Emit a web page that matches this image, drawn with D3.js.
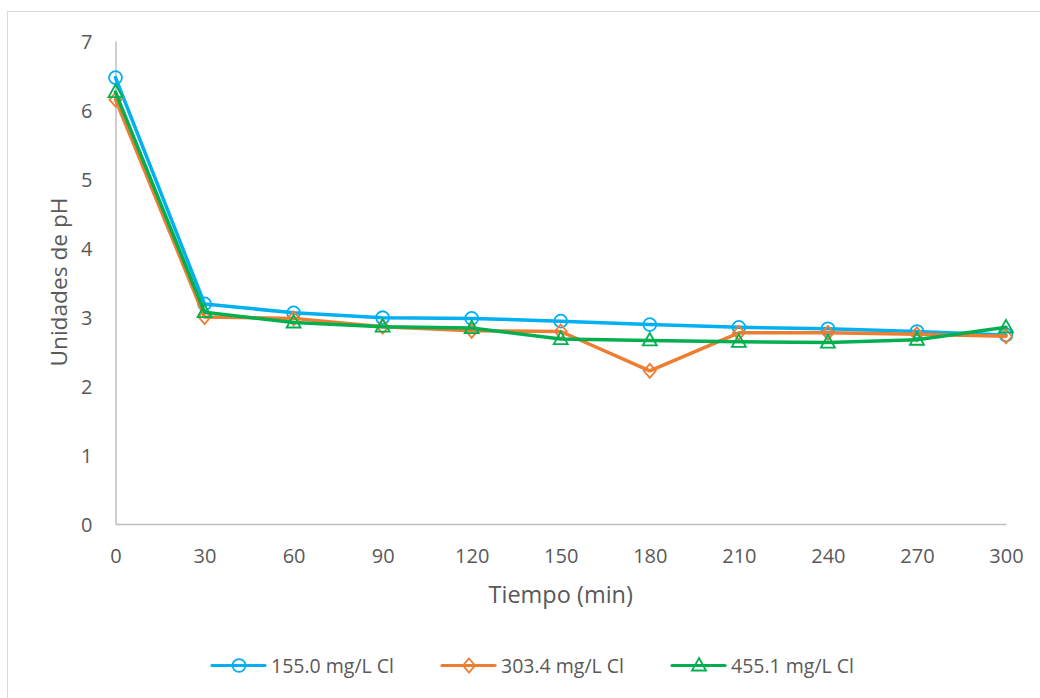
<!DOCTYPE html>
<html>
<head>
<meta charset="utf-8">
<script src="https://cdn.jsdelivr.net/npm/d3@7/dist/d3.min.js"></script>
<style>
  html, body { margin: 0; padding: 0; background: #fff; }
  svg { display: block; }
  text { font-family: "Open Sans", "Liberation Sans", sans-serif; fill: #595959; }
</style>
</head>
<body>
<svg id="chart" width="1040" height="698"></svg>
<script>
const times = [0, 30, 60, 90, 120, 150, 180, 210, 240, 270, 300];
const seriesNames = ["155.0 mg/L Cl", "303.4 mg/L Cl", "455.1 mg/L Cl"];
const s155 = [6.47, 3.19, 3.06, 2.99, 2.98, 2.94, 2.89, 2.85, 2.83, 2.79, 2.74];
const s303 = [6.15, 3.00, 2.98, 2.86, 2.80, 2.79, 2.22, 2.77, 2.77, 2.75, 2.72];
const s455 = [6.26, 3.07, 2.92, 2.86, 2.84, 2.68, 2.66, 2.64, 2.63, 2.67, 2.85];
const xTicks = [0, 30, 60, 90, 120, 150, 180, 210, 240, 270, 300];
const yTicks = [0, 1, 2, 3, 4, 5, 6, 7];
const xTitle = "Tiempo (min)";
const yTitle = "Unidades de pH";

const colors = ["#00b0f0", "#ed7d31", "#00b050"];
const markers = ["circle", "diamond", "triangle"];
const allSeries = [s155, s303, s455];

const svg = d3.select("#chart");

// outer chart border
svg.append("rect")
  .attr("x", 7.5).attr("y", 11.5)
  .attr("width", 1050).attr("height", 700)
  .attr("fill", "none").attr("stroke", "#d9d9d9").attr("stroke-width", 1);

const x = d3.scaleLinear().domain([0, 300]).range([115.5, 1006]);
const y = d3.scaleLinear().domain([0, 7]).range([524, 41]);

// axes
const xAxis = d3.axisBottom(x).tickValues(xTicks).tickSize(0).tickPadding(0).tickFormat(d3.format("d"));
const gx = svg.append("g").attr("transform", `translate(0,${y(0)})`).call(xAxis);
gx.select(".domain").attr("stroke", "#bfbfbf").attr("stroke-width", 1.5);
gx.selectAll("text").attr("font-size", 20).attr("dy", null).attr("y", 39).style("fill", "#595959");

const yAxis = d3.axisLeft(y).tickValues(yTicks).tickSize(0).tickPadding(0).tickFormat(d3.format("d"));
const gy = svg.append("g").attr("transform", `translate(${x(0)},0)`).call(yAxis);
gy.select(".domain").attr("stroke", "#bfbfbf").attr("stroke-width", 1.5);
gy.selectAll("text").attr("font-size", 20).attr("x", -23).attr("dy", "0.36em").style("fill", "#595959");

// axis titles
svg.append("text").attr("x", (x(0) + x(300)) / 2).attr("y", 603)
  .attr("text-anchor", "middle").attr("font-size", 23.5).text(xTitle);
svg.append("text")
  .attr("transform", `translate(67,${282}) rotate(-90)`)
  .attr("text-anchor", "middle").attr("font-size", 22.7).text(yTitle);

function markerPath(type) {
  if (type === "circle") return d3.symbol(d3.symbolCircle, 130)();
  if (type === "diamond") return "M0,-7L6,0L0,7L-6,0Z";
  return "M0,-7.5L7,5L-7,5Z";
}

const line = d3.line().x((d, i) => x(times[i])).y(d => y(d));

allSeries.forEach((vals, si) => {
  const g = svg.append("g");
  g.append("path").datum(vals).attr("d", line)
    .attr("fill", "none").attr("stroke", colors[si]).attr("stroke-width", 3.5)
    .attr("stroke-linejoin", "round").attr("stroke-linecap", "round");
  g.selectAll("path.m").data(vals).enter().append("path").attr("class", "m")
    .attr("d", markerPath(markers[si]))
    .attr("transform", (d, i) => `translate(${x(times[i])},${y(d)})`)
    .attr("fill", "none").attr("stroke", colors[si]).attr("stroke-width", 1.8);
});

// legend
const legendX = [212, 442, 672];
seriesNames.forEach((name, si) => {
  const lg = svg.append("g").attr("transform", `translate(${legendX[si]},665.5)`);
  lg.append("line").attr("x1", 0).attr("x2", 53).attr("y1", 0).attr("y2", 0)
    .attr("stroke", colors[si]).attr("stroke-width", 3.2).attr("stroke-linecap", "round");
  lg.append("path").attr("d", markerPath(markers[si])).attr("transform", "translate(27,0)")
    .attr("fill", "none").attr("stroke", colors[si]).attr("stroke-width", 1.8);
  lg.append("text").attr("x", 59).attr("y", 0).attr("dy", "0.36em")
    .attr("font-size", 19.5).text(name);
});
</script>
</body>
</html>
